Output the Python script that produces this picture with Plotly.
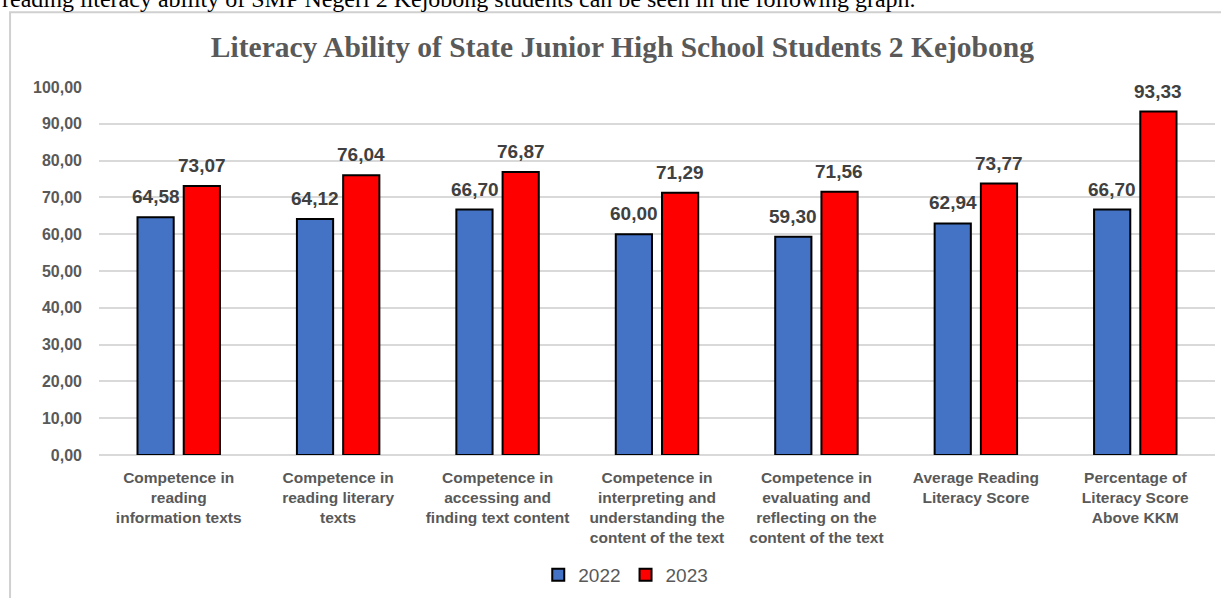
import plotly.graph_objects as go

categories = [
    "Competence in<br>reading<br>information texts",
    "Competence in<br>reading literary<br>texts",
    "Competence in<br>accessing and<br>finding text content",
    "Competence in<br>interpreting and<br>understanding the<br>content of the text",
    "Competence in<br>evaluating and<br>reflecting on the<br>content of the text",
    "Average Reading<br>Literacy Score",
    "Percentage of<br>Literacy Score<br>Above KKM",
]
values_2022 = [64.58, 64.12, 66.70, 60.00, 59.30, 62.94, 66.70]
values_2023 = [73.07, 76.04, 76.87, 71.29, 71.56, 73.77, 93.33]
y_ticks = [0, 10, 20, 30, 40, 50, 60, 70, 80, 90, 100]

GRAY = "#595959"
LABEL = "#404040"
SANS = "Liberation Sans, Arial"
SERIF = "Liberation Serif, Times New Roman"

fig = go.Figure()
for name, vals, color in [("2022", values_2022, "#4472C4"), ("2023", values_2023, "#FF0000")]:
    fig.add_trace(go.Bar(
        name=name, x=categories, y=vals,
        marker=dict(color=color, line=dict(color="black", width=2)),
    ))

def fmt(v):
    return f"{v:.2f}".replace(".", ",")

annotations = []
for vals, shift in [(values_2022, -23), (values_2023, 23)]:
    for cat, v in zip(categories, vals):
        annotations.append(dict(
            x=cat, y=v, xref="x", yref="y", text=f"<b>{fmt(v)}</b>",
            showarrow=False, xanchor="center", yanchor="bottom",
            xshift=shift, yshift=8,
            font=dict(family=SANS, size=19, color=LABEL),
        ))

annotations.append(dict(
    text="reading literacy ability of SMP Negeri 2 Kejobong students can be seen in the following graph.",
    xref="paper", yref="paper", x=-0.0887, y=1.198, xanchor="left", yanchor="bottom",
    showarrow=False,
    font=dict(family=SERIF, size=24, color="black"),
))

fig.update_layout(
    width=1221, height=598,
    margin=dict(l=99, r=6, t=87, b=142),
    paper_bgcolor="white", plot_bgcolor="white",
    separators=",.",
    barmode="group", bargap=0.42, bargroupgap=0.217,
    title=dict(
        text="<b>Literacy Ability of State Junior High School Students 2 Kejobong</b>",
        x=0.469, xref="paper", xanchor="center", y=0.922, yanchor="middle",
        font=dict(family=SERIF, size=29.5, color=GRAY),
    ),
    showlegend=True,
    legend=dict(
        orientation="h", x=0.472, xanchor="center", y=-0.322, yanchor="middle",
        font=dict(family=SANS, size=19, color=GRAY),
        itemwidth=30, traceorder="normal",
    ),
    xaxis=dict(
        showgrid=False, showline=False, ticks="", ticklabelstandoff=11,
        tickfont=dict(family=SANS, size=15.5, color=GRAY, weight="bold"),
    ),
    yaxis=dict(
        range=[0, 100], tickvals=y_ticks, tickformat=".2f",
        showgrid=True, gridcolor="#d9d9d9", gridwidth=1.5,
        zeroline=True, zerolinecolor="#d9d9d9", zerolinewidth=1.5,
        showline=False, ticks="", ticklabelstandoff=16,
        tickfont=dict(family=SANS, size=16, color=GRAY, weight="bold"),
    ),
    shapes=[dict(
        type="rect", xref="paper", yref="paper",
        x0=-0.0797, x1=1.02, y0=-0.5, y1=1.203,
        line=dict(color="#d0d0d0", width=2), fillcolor="rgba(0,0,0,0)", layer="below",
    )],
    annotations=annotations,
)

fig.write_html("out.html")
